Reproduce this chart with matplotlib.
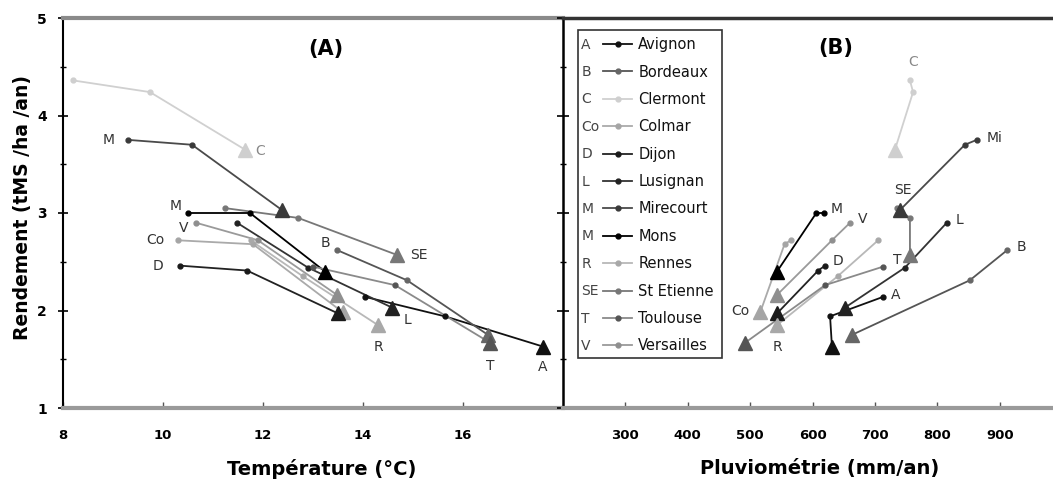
import numpy as np
import matplotlib.pyplot as plt
from matplotlib.lines import Line2D
from matplotlib.patches import Rectangle

plt.rcParams['font.family'] = ['DejaVu Sans']

sites = ['Avignon', 'Bordeaux', 'Clermont', 'Colmar', 'Dijon', 'Lusignan',
         'Mirecourt', 'Mons', 'Rennes', 'St Etienne', 'Toulouse', 'Versailles']
abbr = ['A', 'B', 'C', 'Co', 'D', 'L', 'M', 'M', 'R', 'SE', 'T', 'V']

# rendement (tMS/ha/an) pour les 3 périodes : passé, présent, futur
rendement = [[2.14, 1.94, 1.63], [2.62, 2.31, 1.75], [4.36, 4.24, 3.65],
             [2.72, 2.68, 1.98], [2.46, 2.41, 1.97], [2.90, 2.44, 2.03],
             [3.75, 3.70, 3.03], [3.00, 3.00, 2.40], [2.72, 2.35, 1.85],
             [3.05, 2.95, 2.57], [2.45, 2.26, 1.67], [2.90, 2.72, 2.16]]
# température moyenne (°C)
temperature = [[14.04, 15.64, 17.6], [13.48, 14.88, 16.5], [8.2, 9.74, 11.64],
               [10.3, 11.8, 13.6], [10.34, 11.68, 13.5], [11.48, 12.9, 14.58],
               [9.3, 10.58, 12.38], [10.5, 11.74, 13.24], [11.75, 12.8, 14.3],
               [11.24, 12.7, 14.68], [13.0, 14.64, 16.54], [10.66, 11.9, 13.48]]
# pluviométrie (mm/an)
pluvio = [[713, 628, 631], [912, 852, 663], [756, 761, 732],
          [565, 555, 516], [620, 609, 543], [815, 748, 652],
          [863, 844, 740], [618, 606, 543], [705, 640, 543],
          [735, 756, 756], [713, 620, 492], [660, 631, 543]]

line_col = ['#111111', '#555555', '#d0d0d0', '#aaaaaa', '#222222', '#333333',
            '#4a4a4a', '#000000', '#b8b8b8', '#777777', '#8a8a8a', '#9a9a9a']
mark_col = ['#111111', '#666666', '#cfcfcf', '#a5a5a5', '#1a1a1a', '#222222',
            '#3a3a3a', '#000000', '#a8a8a8', '#777777', '#555555', '#8f8f8f']

# étiquettes : (indice du point, décalage en points)
lab_A = [(2, (0, -15)), (0, (-8, 5)), (2, (11, -1)), (0, (-16, 0)),
         (0, (-16, 0)), (2, (11, -9)), (0, (-14, 0)), (0, (-9, 5)),
         (2, (0, -16)), (2, (16, 0)), (2, (0, -17)), (0, (-9, -4))]
lab_B = [(0, (9, 1)), (0, (10, 2)), (0, (2, 13)), (2, (-14, 1)),
         (0, (9, 3)), (0, (9, 2)), (0, (13, 1)), (0, (9, 3)),
         (2, (0, -16)), (0, (4, 13)), (0, (10, 5)), (0, (9, 3))]

fig = plt.figure(figsize=(10.53, 4.84), dpi=100)
W, H = 1053, 484
axA = fig.add_axes([63 / W, 76 / H, 500 / W, 390 / H])
axB = fig.add_axes([563 / W, 76 / H, 490 / W, 390 / H], sharey=axA)

for i in range(len(sites)):
    R = rendement[i]
    for ax, xs, lab in ((axA, temperature[i], lab_A[i]), (axB, pluvio[i], lab_B[i])):
        ax.plot(xs, R, '-', color=line_col[i], lw=1.3, zorder=2)
        ax.plot(xs[:2], R[:2], 'o', ms=3.5, color=mark_col[i], zorder=3)
        ax.plot(xs[2], R[2], '^', ms=10, color=mark_col[i], zorder=4)
        k, off = lab
        tc = '#888888' if sites[i] == 'Clermont' else '#333333'
        txt = 'Mi' if (ax is axB and sites[i] == 'Mirecourt') else abbr[i]
        ax.annotate(txt, (xs[k], R[k]), xytext=off, textcoords='offset points',
                    ha='center', va='center', fontsize=10, color=tc)

axA.set_xlim(8, 18)
axA.set_ylim(1, 5)
axB.set_xlim(200, 200 + 490 / 0.624)

axA.set_yticks([1, 2, 3, 4, 5])
axA.set_yticks(np.arange(1.5, 5, 0.5), minor=True)
axA.set_xticks([8, 10, 12, 14, 16])
axB.set_xticks([300, 400, 500, 600, 700, 800, 900])
axB.set_yticks(np.arange(1.5, 5, 0.5), minor=True)

for ax in (axA, axB):
    ax.tick_params(axis='x', direction='in', length=4, width=1, color='#555555',
                   labelsize=9.5, pad=15)
    ax.tick_params(axis='y', which='major', direction='inout', length=7, width=1.2)
    ax.tick_params(axis='y', which='minor', direction='inout', length=4, width=1)
    for t in ax.get_xticklabels():
        t.set_fontweight('bold')
    ax.spines['bottom'].set_color('#9a9a9a')
    ax.spines['bottom'].set_linewidth(3)
for t in axA.get_yticklabels():
    t.set_fontweight('bold')
axA.tick_params(axis='y', labelsize=10, pad=8)
axB.tick_params(axis='y', labelleft=False, direction='inout', length=8)

axA.spines['top'].set_color('#8a8a8a')
axA.spines['top'].set_linewidth(3)
axA.spines['left'].set_linewidth(1.5)
axA.spines['right'].set_visible(False)
axB.spines['top'].set_color('#333333')
axB.spines['top'].set_linewidth(2.5)
axB.spines['left'].set_linewidth(1.8)
axB.spines['right'].set_visible(False)

axA.set_xlabel('Température (°C)', fontsize=14, fontweight='bold')
axA.xaxis.set_label_coords(0.518, -0.13)
axB.set_xlabel('Pluviométrie (mm/an)', fontsize=14, fontweight='bold')
axB.xaxis.set_label_coords(0.524, -0.13)
axA.set_ylabel('Rendement (tMS /ha /an)', fontsize=13.5, fontweight='bold')
axA.yaxis.set_label_coords(-0.062, 0.515)

axA.text(0.526, 0.921, '(A)', transform=axA.transAxes, ha='center', va='center',
         fontsize=15, fontweight='bold')
axB.text(0.557, 0.923, '(B)', transform=axB.transAxes, ha='center', va='center',
         fontsize=15, fontweight='bold')

handles = [Line2D([], [], color=line_col[i], lw=1.3, marker='o', ms=3.5,
                  markerfacecolor=mark_col[i], markeredgecolor=mark_col[i])
           for i in range(len(sites))]
leg = axB.legend(handles, sites, loc='upper left', bbox_to_anchor=(0.082, 0.951),
                 frameon=False, fontsize=10.5, labelspacing=0.85, handlelength=2.0,
                 handletextpad=0.4, borderpad=0, borderaxespad=0)
for t in leg.get_texts():
    t.set_color('#111111')

# cadre de la légende avec les abréviations à gauche
axB.add_patch(Rectangle((0.031, 0.128), 0.293, 0.841, transform=axB.transAxes,
                        fill=False, ec='#333333', lw=1.2, zorder=5))
fig.canvas.draw()
inv = axB.transAxes.inverted()
for a, t in zip(abbr, leg.get_texts()):
    tb = t.get_window_extent().transformed(inv)
    axB.text(0.037, (tb.y0 + tb.y1) / 2, a, transform=axB.transAxes,
             ha='left', va='center', fontsize=10, color='#444444')

fig.savefig('out.png', dpi=100)
